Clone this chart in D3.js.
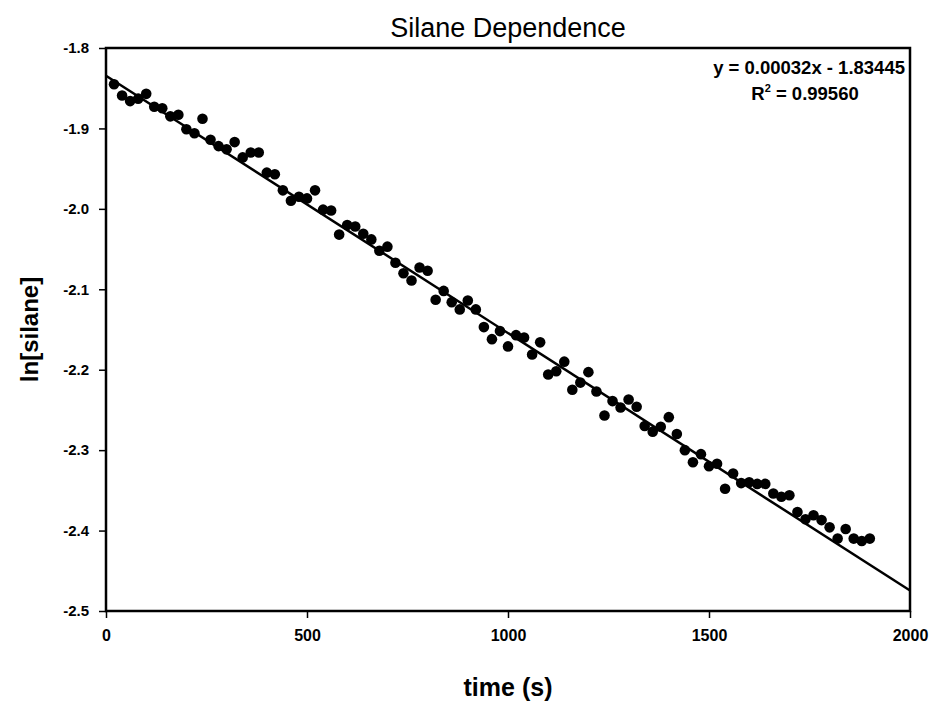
<!DOCTYPE html>
<html>
<head>
<meta charset="utf-8">
<script src="https://cdn.jsdelivr.net/npm/d3@7"></script>
<style>
  body { margin: 0; background: white; }
  text { font-family: "Liberation Sans", Arial, sans-serif; }
</style>
</head>
<body>
<div id="chart"></div>
<script>
// time points (s)
const times = d3.range(20, 1901, 20);

// ln[silane], one per time point
const lnSilane = [
  -1.845, -1.859, -1.866, -1.863, -1.857, -1.873, -1.875, -1.885, -1.883, -1.901,
  -1.906, -1.888, -1.914, -1.922, -1.926, -1.917, -1.936, -1.930, -1.930, -1.955,
  -1.957, -1.977, -1.990, -1.985, -1.987, -1.977, -2.001, -2.002, -2.032, -2.020,
  -2.022, -2.031, -2.038, -2.052, -2.047, -2.067, -2.080, -2.089, -2.073, -2.077,
  -2.113, -2.102, -2.116, -2.125, -2.114, -2.125, -2.147, -2.162, -2.152, -2.171,
  -2.157, -2.160, -2.181, -2.166, -2.206, -2.202, -2.190, -2.225, -2.216, -2.203,
  -2.227, -2.257, -2.239, -2.247, -2.237, -2.246, -2.270, -2.277, -2.271, -2.259,
  -2.280, -2.300, -2.315, -2.305, -2.320, -2.317, -2.348, -2.329, -2.341, -2.340,
  -2.342, -2.342, -2.354, -2.358, -2.356, -2.377, -2.386, -2.381, -2.387, -2.396,
  -2.410, -2.398, -2.410, -2.413, -2.410
];

// fitted line
const fitSlope = -0.00032;
const fitIntercept = -1.83445;
const fitRange = [0, 2000];

const xTicks = [0, 500, 1000, 1500, 2000];
const yTicks = [-1.8, -1.9, -2.0, -2.1, -2.2, -2.3, -2.4, -2.5];

const data = times.map((t, i) => ({ t: t, v: lnSilane[i] }));

let width = 935, height = 704;
let margin = { top: 48, bottom: 93, left: 106, right: 25 };

let svg = d3.select("#chart")
    .append("svg")
    .attr("width", width)
    .attr("height", height)
    .style("background", "white");

let x = d3.scaleLinear()
    .domain([0, 2000])
    .range([margin.left, width - margin.right]);

let y = d3.scaleLinear()
    .domain([-2.5, -1.8])
    .range([height - margin.bottom, margin.top]);

// frame
svg.append("rect")
    .attr("x", x(0))
    .attr("y", y(-1.8))
    .attr("width", x(2000) - x(0))
    .attr("height", y(-2.5) - y(-1.8))
    .attr("fill", "none")
    .attr("stroke", "black")
    .attr("stroke-width", 2.5);

// axes (plain hyphen for the minus sign, as in the original)
let xAxis = svg.append("g")
    .attr("transform", `translate(0,${y(-2.5)})`)
    .call(d3.axisBottom(x).tickValues(xTicks).tickSize(7).tickPadding(12).tickFormat(d => String(d)));

let yAxis = svg.append("g")
    .attr("transform", `translate(${x(0)},0)`)
    .call(d3.axisLeft(y).tickValues(yTicks).tickSize(7).tickPadding(10).tickFormat(d => d.toFixed(1)));

[xAxis, yAxis].forEach(ax => {
    ax.select(".domain").remove();
    ax.selectAll(".tick line").attr("stroke", "black").attr("stroke-width", 1.5);
    ax.selectAll(".tick text")
        .attr("fill", "black")
        .style("font-size", "15px")
        .style("font-weight", "bold");
});
xAxis.selectAll(".tick text")
    .style("font-size", "16px");

// title
svg.append("text")
    .attr("x", (x(0) + x(2000)) / 2)
    .attr("y", 37)
    .attr("text-anchor", "middle")
    .style("font-size", "27px")
    .text("Silane Dependence");

// axis labels
svg.append("text")
    .attr("x", (x(0) + x(2000)) / 2)
    .attr("y", 696)
    .attr("text-anchor", "middle")
    .style("font-size", "25px")
    .style("font-weight", "bold")
    .text("time (s)");

svg.append("text")
    .attr("transform", "rotate(-90)")
    .attr("x", -(y(-1.8) + y(-2.5)) / 2)
    .attr("y", 38)
    .attr("text-anchor", "middle")
    .style("font-size", "24px")
    .style("font-weight", "bold")
    .text("ln[silane]");

// regression line
let line = d3.line()
    .x(d => x(d))
    .y(d => y(fitSlope * d + fitIntercept));

svg.append("path")
    .datum(fitRange)
    .attr("d", line)
    .attr("fill", "none")
    .attr("stroke", "black")
    .attr("stroke-width", 2.5);

// points
svg.selectAll(".pt")
    .data(data)
    .enter()
    .append("circle")
    .attr("class", "pt")
    .attr("cx", d => x(d.t))
    .attr("cy", d => y(d.v))
    .attr("r", 5.3)
    .attr("fill", "black");

// equation
svg.append("text")
    .attr("x", 905)
    .attr("y", 74)
    .attr("text-anchor", "end")
    .style("font-size", "18.5px")
    .style("font-weight", "bold")
    .text("y = 0.00032x - 1.83445");

let r2 = svg.append("text")
    .attr("x", 805)
    .attr("y", 100)
    .attr("text-anchor", "middle")
    .style("font-size", "18.5px")
    .style("font-weight", "bold");
r2.append("tspan").text("R");
r2.append("tspan").attr("dy", -8).style("font-size", "11px").text("2");
r2.append("tspan").attr("dy", 8).text(" = 0.99560");
</script>
</body>
</html>
